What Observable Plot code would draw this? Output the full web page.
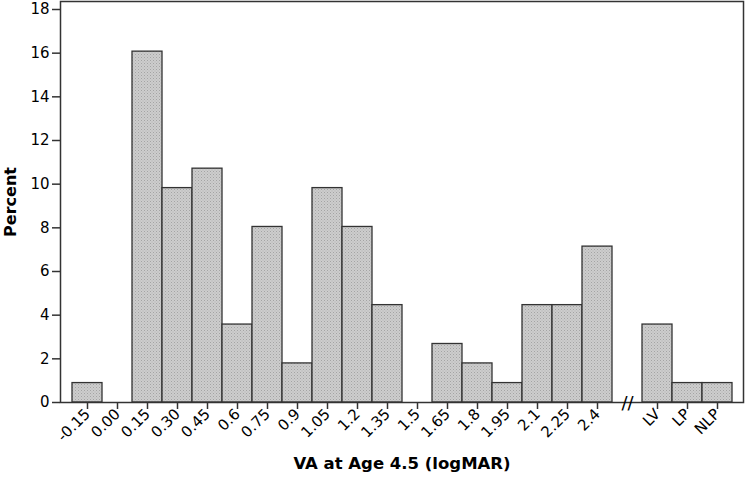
<!DOCTYPE html>
<html>
<head>
<meta charset="utf-8">
<script src="https://cdn.jsdelivr.net/npm/d3@7"></script>
<script src="https://cdn.jsdelivr.net/npm/@observablehq/plot@0.6"></script>
<style>
  html, body { margin: 0; padding: 0; background: #fff; }
  #chart svg { display: block; }
</style>
</head>
<body>
<div id="chart"></div>
<script>
const categories = ["-0.15","0.00","0.15","0.30","0.45","0.6","0.75","0.9","1.05","1.2","1.35","1.5","1.65","1.8","1.95","2.1","2.25","2.4","LV","LP","NLP"];
const percents   = [0.89, 0, 16.07, 9.82, 10.71, 3.57, 8.04, 1.79, 9.82, 8.04, 4.46, 0, 2.68, 1.79, 0.89, 4.46, 4.46, 7.14, 3.57, 0.89, 0.89];
const yTicks = [0, 2, 4, 6, 8, 10, 12, 14, 16, 18];
const GAP = "__gap__";
const domain = [...categories.slice(0, 18), GAP, ...categories.slice(18)];

const data = categories.map((c, i) => ({cat: c, pct: percents[i]})).filter(d => d.pct > 0);

const font = "'DejaVu Sans', Verdana, sans-serif";
const chart = Plot.plot({
  width: 745,
  height: 481,
  marginLeft: 60,
  marginRight: 2,
  marginTop: 1,
  marginBottom: 79,
  style: {fontFamily: font, fontSize: "14px", color: "#000", background: "#fff"},
  x: {domain, padding: 0, insetLeft: 11, insetRight: 10},
  y: {domain: [0, 18], insetTop: 8},
  marks: [
    Plot.barY(data, {x: "cat", y: "pct", fill: "url(#dots)", stroke: "#333", strokeWidth: 1.3}),
    Plot.frame({stroke: "#333", strokeWidth: 1.5}),
    Plot.axisY(yTicks, {tickSize: 8, tickPadding: 3, stroke: "#333", strokeWidth: 1.5, fontSize: 15, fill: "#000", label: null}),
    Plot.axisX(categories, {tickSize: 7, tickPadding: 2, tickRotate: -45, stroke: "#333", strokeWidth: 1.5, fontSize: 15, fill: "#000", label: null}),
    Plot.text([GAP], {x: d => d, y: 0, text: () => "//", fontSize: 18, fill: "#000", dy: 1}),
    Plot.text(["VA at Age 4.5 (logMAR)"], {frameAnchor: "bottom", dy: 66, fontWeight: "bold", fontSize: 16.5, fill: "#000"}),
    Plot.text(["Percent"], {frameAnchor: "left", textAnchor: "middle", dx: -50, rotate: -90, fontWeight: "bold", fontSize: 16, fill: "#000"})
  ]
});

// dotted texture for bars
const svg = d3.select(chart);
const defs = svg.insert("defs", ":first-child");
const pat = defs.append("pattern").attr("id", "dots").attr("patternUnits", "userSpaceOnUse").attr("width", 3).attr("height", 3);
pat.append("rect").attr("width", 3).attr("height", 3).attr("fill", "#cdcdcd");
pat.append("rect").attr("x", 0).attr("y", 0).attr("width", 1).attr("height", 1).attr("fill", "#a4a4a4");
pat.append("rect").attr("x", 1.5).attr("y", 1.5).attr("width", 1).attr("height", 1).attr("fill", "#b4b4b4");

document.getElementById("chart").appendChild(chart);
</script>
</body>
</html>
